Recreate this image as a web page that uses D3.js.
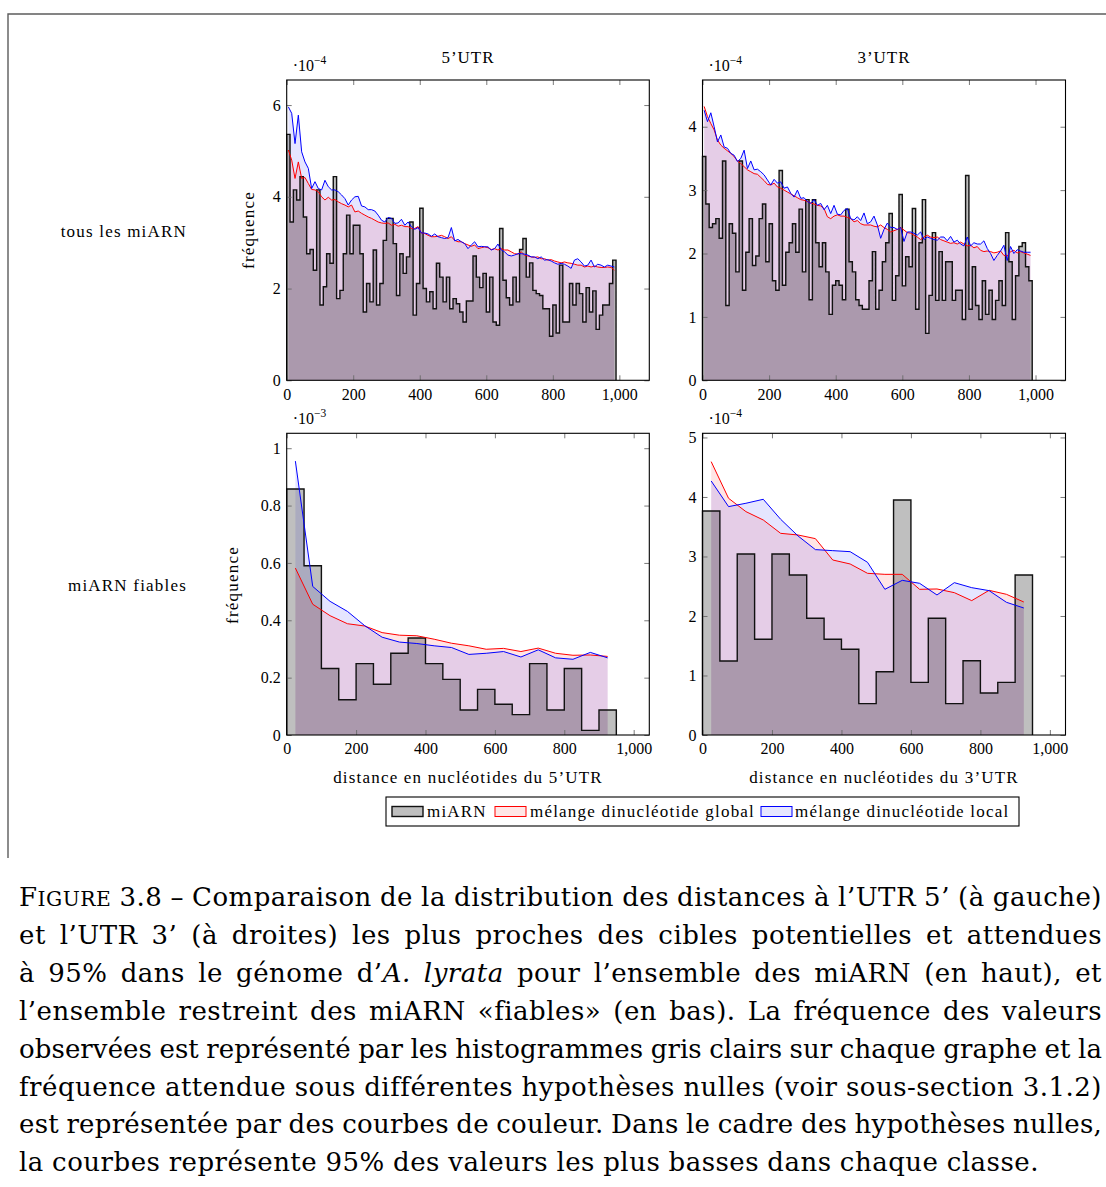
<!DOCTYPE html>
<html>
<head>
<meta charset="utf-8">
<script src="https://cdn.jsdelivr.net/npm/d3@7"></script>
<style>
  html, body { margin: 0; padding: 0; background: #fff; }
  svg { display: block; }
</style>
</head>
<body>
<svg id="fig" width="1106" height="1187"></svg>
<script>
// ---------------------------------------------------------------------------
// Data: observed histograms (gray) and expected 95% curves (red: global
// dinucleotide shuffle, blue: local dinucleotide shuffle).
// Top row values are in units of 1e-4, bottom-left in 1e-3, bottom-right 1e-4.
// ---------------------------------------------------------------------------

// x tick values shared by every panel
const xTicks = [0, 200, 400, 600, 800, 1000];

// --- all miRNAs, 5'UTR (bins of 10 nt) ---
const utr5AllHist = [
  5.36, 3.45, 4.15, 3.93, 4.44, 3.56, 2.76, 2.85, 2.40, 4.15,
  1.64, 2.04, 2.76, 2.55, 4.44, 1.78, 1.96, 2.76, 3.60, 2.76,
  3.38, 3.38, 2.76, 1.49, 2.11, 1.71, 2.84, 1.64, 2.11, 3.05,
  3.53, 3.53, 2.98, 1.85, 2.76, 2.33, 2.69, 3.45, 1.42, 2.11,
  3.75, 2.00, 1.71, 1.93, 1.56, 2.55, 2.25, 1.71, 2.25, 1.56,
  1.78, 1.67, 1.49, 1.27, 1.73, 1.73, 2.71, 2.25, 2.02, 2.33,
  1.49, 2.25, 1.27, 1.20, 3.31, 2.18, 1.80, 1.64, 2.25, 1.71,
  2.85, 3.09, 2.25, 2.56, 1.96, 1.89, 1.85, 1.56, 1.56, 0.96,
  1.64, 1.03, 2.51, 1.27, 1.27, 2.11, 1.64, 2.11, 1.89, 1.27,
  2.02, 1.49, 1.95, 1.11, 1.42, 1.64, 1.64, 2.11, 2.62
];
const utr5AllGlobal = [
  5.02, 4.80, 4.40, 4.76, 4.40, 4.42, 4.29, 4.16, 4.15, 4.11,
  4.00, 3.93, 3.99, 3.93, 3.94, 3.89, 3.85, 3.82, 3.78, 3.82,
  3.67, 3.69, 3.64, 3.60, 3.56, 3.53, 3.49, 3.45, 3.43, 3.42,
  3.43, 3.38, 3.40, 3.36, 3.38, 3.35, 3.35, 3.31, 3.31, 3.35,
  3.21, 3.20, 3.16, 3.13, 3.13, 3.14, 3.16, 3.13, 3.09, 3.13,
  3.05, 3.02, 3.02, 2.98, 2.95, 2.92, 2.95, 2.87, 2.89, 2.91,
  2.89, 2.85, 2.87, 2.84, 2.87, 2.84, 2.84, 2.80, 2.76, 2.75,
  2.80, 2.73, 2.71, 2.69, 2.68, 2.69, 2.65, 2.65, 2.62, 2.63,
  2.60, 2.58, 2.56, 2.58, 2.56, 2.55, 2.53, 2.51, 2.51, 2.47,
  2.49, 2.47, 2.49, 2.47, 2.46, 2.46, 2.47, 2.46, 2.40
];
const utr5AllLocal = [
  5.96, 5.82, 5.16, 5.78, 4.98, 4.76, 4.62, 4.18, 4.33, 4.18,
  4.15, 4.36, 4.22, 4.15, 4.15, 4.11, 4.04, 3.96, 3.82, 3.93,
  4.00, 4.01, 3.80, 3.78, 3.72, 3.72, 3.69, 3.60, 3.49, 3.45,
  3.55, 3.53, 3.42, 3.43, 3.51, 3.38, 3.45, 3.35, 3.29, 3.33,
  3.21, 3.21, 3.19, 3.14, 3.19, 3.13, 3.11, 3.09, 3.11, 3.33,
  3.04, 3.07, 3.02, 2.98, 2.87, 2.95, 3.02, 2.91, 2.92, 2.91,
  2.91, 2.84, 2.87, 2.97, 2.84, 2.80, 2.73, 2.71, 2.73, 2.76,
  2.76, 2.75, 2.73, 2.69, 2.69, 2.65, 2.69, 2.62, 2.63, 2.60,
  2.56, 2.53, 2.55, 2.53, 2.49, 2.44, 2.62, 2.65, 2.58, 2.49,
  2.51, 2.62, 2.47, 2.53, 2.51, 2.47, 2.51, 2.49, 2.47
];

// --- all miRNAs, 3'UTR (bins of 10 nt) ---
const utr3AllHist = [
  3.53, 2.78, 2.41, 2.47, 2.55, 2.24, 3.46, 1.18, 2.47, 2.32,
  1.71, 3.46, 1.42, 2.02, 2.55, 1.81, 1.96, 2.55, 2.78, 1.87,
  2.47, 1.57, 1.42, 3.31, 1.50, 2.02, 2.17, 2.47, 2.02, 2.70,
  1.71, 2.85, 1.27, 2.85, 2.17, 1.79, 2.17, 1.71, 1.04, 1.50,
  1.57, 1.50, 1.27, 2.70, 1.87, 1.71, 1.27, 1.18, 1.12, 1.12,
  1.57, 2.03, 1.12, 1.42, 1.87, 2.17, 2.63, 1.26, 1.65, 2.93,
  1.49, 1.95, 1.79, 2.71, 1.12, 2.17, 2.85, 0.74, 1.34, 2.33,
  1.26, 2.03, 1.26, 1.87, 1.87, 1.26, 1.42, 1.42, 0.96, 3.23,
  1.12, 1.79, 1.18, 0.96, 1.57, 1.04, 1.42, 0.96, 1.26, 1.57,
  1.18, 2.33, 1.87, 0.96, 1.65, 2.11, 2.17, 1.79, 1.57
];
const utr3AllGlobal = [
  4.32, 4.16, 4.05, 3.95, 3.79, 3.71, 3.66, 3.62, 3.58, 3.53,
  3.46, 3.42, 3.37, 3.32, 3.29, 3.26, 3.25, 3.20, 3.15, 3.09,
  3.08, 3.11, 3.05, 3.03, 3.00, 2.97, 2.94, 2.91, 2.88, 2.85,
  2.84, 2.82, 2.80, 2.78, 2.76, 2.75, 2.71, 2.58, 2.55, 2.59,
  2.61, 2.59, 2.59, 2.57, 2.55, 2.50, 2.52, 2.47, 2.45, 2.45,
  2.45, 2.43, 2.42, 2.45, 2.41, 2.38, 2.34, 2.36, 2.38, 2.41,
  2.37, 2.33, 2.32, 2.29, 2.26, 2.22, 2.26, 2.29, 2.26, 2.25,
  2.26, 2.22, 2.20, 2.18, 2.16, 2.17, 2.15, 2.18, 2.15, 2.12,
  2.13, 2.09, 2.11, 2.05, 2.03, 2.04, 2.03, 2.01, 2.02, 2.04,
  1.97, 1.96, 2.03, 2.05, 2.01, 2.03, 2.01, 1.99, 1.97
];
const utr3AllLocal = [
  4.26, 4.08, 4.22, 4.00, 3.76, 3.87, 3.68, 3.66, 3.58, 3.55,
  3.45, 3.50, 3.63, 3.34, 3.46, 3.32, 3.33, 3.29, 3.24, 3.16,
  3.08, 3.17, 3.11, 3.13, 3.03, 3.05, 2.95, 2.89, 3.00, 2.87,
  2.88, 2.82, 2.79, 2.85, 2.76, 2.79, 2.69, 2.76, 2.63, 2.76,
  2.62, 2.61, 2.68, 2.71, 2.55, 2.53, 2.58, 2.52, 2.64, 2.47,
  2.50, 2.59, 2.45, 2.24, 2.38, 2.48, 2.41, 2.41, 2.38, 2.41,
  2.19, 2.34, 2.34, 2.32, 2.29, 2.34, 2.22, 2.26, 2.24, 2.22,
  2.21, 2.26, 2.26, 2.20, 2.27, 2.18, 2.21, 2.15, 2.12, 2.26,
  2.12, 2.17, 2.15, 2.15, 2.20, 2.08, 2.00, 1.89, 1.97, 2.04,
  2.13, 1.89, 2.11, 2.00, 2.06, 2.04, 2.02, 2.02, 2.02
];

// --- reliable miRNAs, 5'UTR (bins of 50 nt, units 1e-3) ---
const utr5RelHist   = [0.858, 0.590, 0.232, 0.123, 0.249, 0.177, 0.285, 0.338, 0.249, 0.194,
                       0.087, 0.159, 0.107, 0.071, 0.249, 0.087, 0.232, 0.016, 0.087];
const utr5RelGlobal = [0.582, 0.456, 0.416, 0.388, 0.380, 0.357, 0.348, 0.346, 0.334, 0.320,
                       0.311, 0.299, 0.302, 0.291, 0.303, 0.285, 0.278, 0.279, 0.274];
const utr5RelLocal  = [0.955, 0.518, 0.466, 0.431, 0.381, 0.341, 0.324, 0.319, 0.311, 0.305,
                       0.281, 0.285, 0.291, 0.272, 0.297, 0.269, 0.264, 0.288, 0.269];

// --- reliable miRNAs, 3'UTR (bins of 50 nt, units 1e-4) ---
const utr3RelHist   = [3.765, 1.244, 3.042, 1.608, 3.042, 2.689, 1.961, 1.608, 1.440, 0.527,
                       1.064, 3.950, 0.885, 1.961, 0.527, 1.249, 0.706, 0.885, 2.689];
const utr3RelGlobal = [4.594, 3.978, 3.754, 3.613, 3.389, 3.361, 3.300, 2.941, 2.874, 2.717,
                       2.700, 2.700, 2.448, 2.454, 2.392, 2.258, 2.431, 2.364, 2.235];
const utr3RelLocal  = [4.269, 3.838, 3.894, 3.961, 3.625, 3.345, 3.115, 3.098, 3.081, 2.902,
                       2.448, 2.599, 2.549, 2.353, 2.560, 2.476, 2.426, 2.230, 2.134];

// y tick values per panel
const yTicksTL = [0, 2, 4, 6];
const yTicksTR = [0, 1, 2, 3, 4];
const yTicksBL = [0, 0.2, 0.4, 0.6, 0.8, 1];
const yTicksBR = [0, 1, 2, 3, 4, 5];

// texts
const rowLabels = ["tous les miARN", "miARN fiables"];
const legendLabels = ["miARN", "mélange dinucléotide global", "mélange dinucléotide local"];
const captionLines = [
  "^F|IGURE^ 3.8 – Comparaison de la distribution des distances à l’UTR 5’ (à gauche)",
  "et l’UTR 3’ (à droites) les plus proches des cibles potentielles et attendues",
  "à 95% dans le génome d’*A.* *lyrata* pour l’ensemble des miARN (en haut), et",
  "l’ensemble restreint des miARN «fiables» (en bas). La fréquence des valeurs",
  "observées est représenté par les histogrammes gris clairs sur chaque graphe et la",
  "fréquence attendue sous différentes hypothèses nulles (voir sous-section 3.1.2)",
  "est représentée par des courbes de couleur. Dans le cadre des hypothèses nulles,",
  "la courbes représente 95% des valeurs les plus basses dans chaque classe."
];

// ---------------------------------------------------------------------------
const SERIF = "'Liberation Serif', 'Times New Roman', serif";
const CAPTION_FONT = "'DejaVu Serif', serif";
const svg = d3.select("#fig");

// outer figure frame (open at the bottom and right)
svg.append("path")
  .attr("d", "M1106,14H8V858")
  .attr("fill", "none").attr("stroke", "#5c5c5c").attr("stroke-width", 1.4);

const panels = [
  { id: "tl", left: 286.7, right: 649.3, top: 80, bottom: 380.3, xMax: 1090, yMax: 6.546,
    bin: 10, hist: utr5AllHist, red: utr5AllGlobal, blue: utr5AllLocal, yTicks: yTicksTL,
    exp: "−4", title: "5’UTR", ylab: { x: 254, y: 230 } },
  { id: "tr", left: 702.5, right: 1065.5, top: 80, bottom: 380.3, xMax: 1090, yMax: 4.737,
    bin: 10, hist: utr3AllHist, red: utr3AllGlobal, blue: utr3AllLocal, yTicks: yTicksTR,
    exp: "−4", title: "3’UTR" },
  { id: "bl", left: 286.7, right: 649.3, top: 433.3, bottom: 735, xMax: 1045, yMax: 1.052,
    bin: 50, hist: utr5RelHist, red: utr5RelGlobal, blue: utr5RelLocal, yTicks: yTicksBL,
    exp: "−3", xlab: "distance en nucléotides du 5’UTR", ylab: { x: 238, y: 585 } },
  { id: "br", left: 702.5, right: 1065.5, top: 433.3, bottom: 735, xMax: 1045, yMax: 5.07,
    bin: 50, hist: utr3RelHist, red: utr3RelGlobal, blue: utr3RelLocal, yTicks: yTicksBR,
    exp: "−4", xlab: "distance en nucléotides du 3’UTR" }
];

const TICK = "#6a6a6a";

panels.forEach(p => {
  const x = d3.scaleLinear().domain([0, p.xMax]).range([p.left, p.right]);
  const y = d3.scaleLinear().domain([0, p.yMax]).range([p.bottom, p.top]);
  const g = svg.append("g").attr("class", "panel-" + p.id);
  const centers = p.red.map((d, i) => (i + 0.5) * p.bin);

  // expected-value areas
  const area = d3.area().x((d, i) => x(centers[i])).y0(y(0)).y1(d => y(d));
  g.append("path").datum(p.red).attr("d", area).attr("fill", "rgba(255,0,0,0.1)");
  g.append("path").datum(p.blue).attr("d", area).attr("fill", "rgba(0,0,255,0.1)");

  // observed histogram
  const n = p.hist.length;
  const steps = p.hist.map((v, i) => [i * p.bin, v]);
  steps.push([n * p.bin, p.hist[n - 1]]);
  const hArea = d3.area().curve(d3.curveStepAfter)
    .x(d => x(d[0])).y0(y(0)).y1(d => y(d[1]));
  g.append("path").datum(steps).attr("d", hArea).attr("fill", "rgba(0,0,0,0.25)");
  const hLine = d3.line().curve(d3.curveStepAfter).x(d => x(d[0])).y(d => y(d[1]));
  g.append("path").datum([[0, 0], ...steps, [n * p.bin, 0]])
    .attr("d", hLine).attr("fill", "none")
    .attr("stroke", "#111").attr("stroke-width", 1.4).attr("stroke-linejoin", "miter");

  // expected-value curves
  const line = d3.line().x((d, i) => x(centers[i])).y(d => y(d));
  g.append("path").datum(p.red).attr("d", line)
    .attr("fill", "none").attr("stroke", "#ff0000").attr("stroke-width", 1);
  g.append("path").datum(p.blue).attr("d", line)
    .attr("fill", "none").attr("stroke", "#0000ff").attr("stroke-width", 1);

  // axes: ticks drawn inward on all four sides
  const fmtX = d3.format(",");
  const fmtY = d3.format("~g");
  const styleAxis = sel => {
    sel.select(".domain").remove();
    sel.selectAll(".tick line").attr("stroke", TICK).attr("stroke-width", 0.9);
    sel.selectAll(".tick text").attr("fill", "#000")
      .style("font-family", SERIF).style("font-size", "16px");
  };
  g.append("g").attr("transform", `translate(0,${p.bottom})`)
    .call(d3.axisBottom(x).tickValues(xTicks).tickFormat(fmtX).tickSize(-5).tickPadding(8))
    .call(styleAxis);
  g.append("g").attr("transform", `translate(0,${p.top})`)
    .call(d3.axisTop(x).tickValues(xTicks).tickFormat("").tickSize(-5))
    .call(styleAxis);
  g.append("g").attr("transform", `translate(${p.left},0)`)
    .call(d3.axisLeft(y).tickValues(p.yTicks).tickFormat(fmtY).tickSize(-5).tickPadding(6))
    .call(styleAxis);
  g.append("g").attr("transform", `translate(${p.right},0)`)
    .call(d3.axisRight(y).tickValues(p.yTicks).tickFormat("").tickSize(-5))
    .call(styleAxis);

  // frame
  g.append("rect")
    .attr("x", p.left).attr("y", p.top)
    .attr("width", p.right - p.left).attr("height", p.bottom - p.top)
    .attr("fill", "none").attr("stroke", "#000").attr("stroke-width", 1.1);

  // scale exponent
  const ex = g.append("text").attr("x", p.left + 6).attr("y", p.top - 9)
    .style("font-family", SERIF).style("font-size", "16px");
  ex.append("tspan").text("·10");
  ex.append("tspan").attr("dy", -7).style("font-size", "11.5px").text(p.exp);

  if (p.title) {
    g.append("text").attr("x", (p.left + p.right) / 2).attr("y", 62.5)
      .attr("text-anchor", "middle")
      .style("font-family", SERIF).style("font-size", "17px").style("letter-spacing", "1px")
      .text(p.title);
  }
  if (p.xlab) {
    g.append("text").attr("x", (p.left + p.right) / 2).attr("y", 783)
      .attr("text-anchor", "middle")
      .style("font-family", SERIF).style("font-size", "17px").style("letter-spacing", "1.2px")
      .text(p.xlab);
  }
  if (p.ylab) {
    g.append("text")
      .attr("transform", `translate(${p.ylab.x},${p.ylab.y}) rotate(-90)`)
      .attr("text-anchor", "middle")
      .style("font-family", SERIF).style("font-size", "17px").style("letter-spacing", "1.2px")
      .text("fréquence");
  }
});

// row labels
[[237, rowLabels[0]], [591, rowLabels[1]]].forEach(([yy, t]) => {
  svg.append("text").attr("x", 187).attr("y", yy).attr("text-anchor", "end")
    .style("font-family", SERIF).style("font-size", "17px").style("letter-spacing", "1.2px")
    .text(t);
});

// legend
const lg = svg.append("g").attr("class", "legend");
lg.append("rect").attr("x", 386).attr("y", 797).attr("width", 633).attr("height", 29)
  .attr("fill", "#fff").attr("stroke", "#000").attr("stroke-width", 1.1);
const legendItems = [
  { sx: 392, tx: 427, fill: "#bfbfbf", stroke: "#111" },
  { sx: 495, tx: 530, fill: "#ffe6e6", stroke: "#ff0000" },
  { sx: 761, tx: 795, fill: "#e6e6ff", stroke: "#0000ff" }
];
legendItems.forEach((it, i) => {
  lg.append("rect").attr("x", it.sx).attr("y", 806.5).attr("width", 31).attr("height", 10)
    .attr("fill", it.fill).attr("stroke", it.stroke).attr("stroke-width", i === 0 ? 1.4 : 1);
  lg.append("text").attr("x", it.tx).attr("y", 817)
    .style("font-family", SERIF).style("font-size", "17px").style("letter-spacing", "1.2px")
    .text(legendLabels[i]);
});

// caption: justified lines (last line left-aligned); lines that would not
// fit with ordinary spaces get their letter spacing tightened first.
const CAP_X = 19, CAP_W = 1083, CAP_Y0 = 906, CAP_DY = 37.9, CAP_SIZE = 26, CAP_LS = 0.5;
function parseWord(w) {
  // ^A|BC^ : A normal, BC small caps ; *xx* : italic
  const segs = [];
  if (w.startsWith("^")) {
    const inner = w.slice(1, w.lastIndexOf("^"));
    const [a, b] = inner.split("|");
    segs.push({ t: a, s: "" });
    segs.push({ t: b, s: "sc" });
    const rest = w.slice(w.lastIndexOf("^") + 1);
    if (rest) segs.push({ t: rest, s: "" });
    return segs;
  }
  const re = /\*([^*]+)\*/g;
  let last = 0, m;
  while ((m = re.exec(w))) {
    if (m.index > last) segs.push({ t: w.slice(last, m.index), s: "" });
    segs.push({ t: m[1], s: "i" });
    last = re.lastIndex;
  }
  if (last < w.length) segs.push({ t: w.slice(last), s: "" });
  return segs;
}
const cap = svg.append("g").attr("class", "caption")
  .style("font-family", CAPTION_FONT).style("font-size", CAP_SIZE + "px");
const spaceProbe = cap.append("text").text("a a");
const probeA = cap.append("text").text("aa");
const spaceW = spaceProbe.node().getComputedTextLength() - probeA.node().getComputedTextLength();
spaceProbe.remove(); probeA.remove();

captionLines.forEach((ln, li) => {
  const words = ln.split(" ");
  const yy = CAP_Y0 + li * CAP_DY;
  const lineG = cap.append("g").style("letter-spacing", CAP_LS + "px");
  const nodes = words.map(w => {
    const t = lineG.append("text").attr("y", yy);
    parseWord(w).forEach(sg => {
      const ts = t.append("tspan").text(sg.t);
      if (sg.s === "i") ts.style("font-style", "italic");
      if (sg.s === "sc") ts.style("font-size", (CAP_SIZE * 0.78) + "px");
    });
    return t;
  });
  const measure = () => nodes.map(t => t.node().getComputedTextLength());
  let widths = measure();
  const nGaps = words.length - 1;
  const minGap = spaceW * 0.9;
  const natural = d3.sum(widths) + nGaps * minGap;
  if (natural > CAP_W) {
    const nChars = d3.sum(words, w => w.replace(/[\^*|]/g, "").length);
    lineG.style("letter-spacing", (CAP_LS - (natural - CAP_W) / nChars) + "px");
    widths = measure();
  }
  const total = d3.sum(widths);
  const isLast = li === captionLines.length - 1;
  const gap = isLast ? spaceW : Math.max(minGap, (CAP_W - total) / nGaps);
  let cx = CAP_X;
  nodes.forEach((t, i) => { t.attr("x", cx); cx += widths[i] + gap; });
});
</script>
</body>
</html>
